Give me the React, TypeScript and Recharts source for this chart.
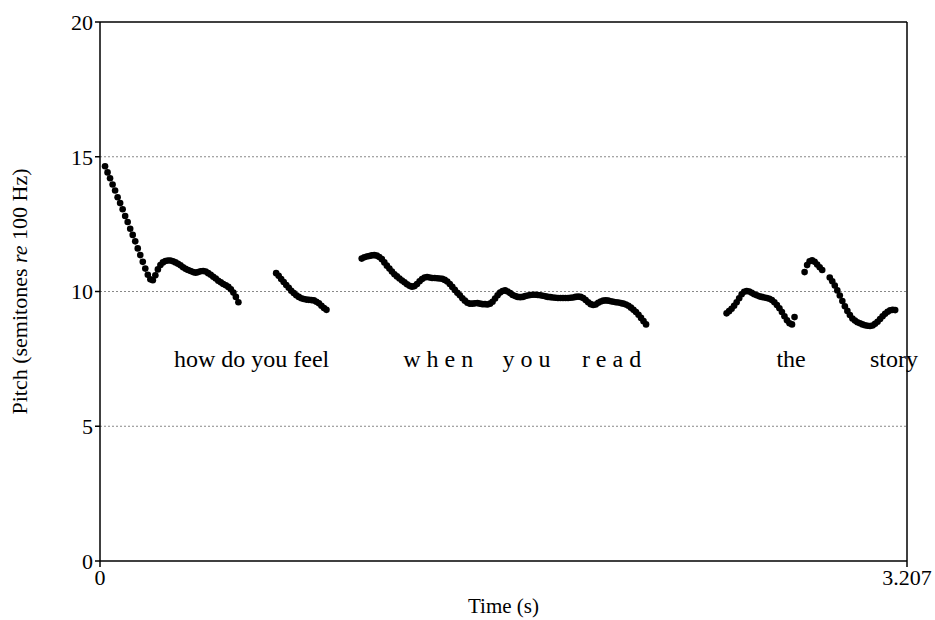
import React from "react";
import {
  ScatterChart,
  Scatter,
  XAxis,
  YAxis,
  ReferenceLine,
  Label,
} from "recharts";

// pitch track sampled every 10 ms, one array per voiced stretch
const STEP = 0.01;

const seg1Start = 0.02;
const seg1Pitch = [
  14.65, 14.42, 14.2, 13.97, 13.75, 13.5, 13.28, 13.05, 12.8, 12.58, 12.33,
  12.1, 11.86, 11.6, 11.35, 11.1, 10.85, 10.62, 10.45, 10.42, 10.6, 10.82,
  10.98, 11.08, 11.13, 11.15, 11.15, 11.12, 11.08, 11.03, 10.97, 10.9, 10.84,
  10.8, 10.76, 10.72, 10.7, 10.72, 10.75, 10.76, 10.74, 10.68, 10.62, 10.55,
  10.48, 10.4, 10.34, 10.28, 10.23, 10.17, 10.08, 9.96, 9.8, 9.6,
];

const seg2Start = 0.7;
const seg2Pitch = [
  10.68, 10.58, 10.46, 10.35, 10.24, 10.14, 10.03, 9.94, 9.86, 9.8, 9.75,
  9.72, 9.7, 9.69, 9.68, 9.67, 9.62, 9.56, 9.47, 9.39, 9.32,
];

const seg3Start = 1.04;
const seg3Pitch = [
  11.22, 11.27, 11.3, 11.32, 11.34, 11.35, 11.33, 11.28, 11.2, 11.08, 10.96,
  10.85, 10.74, 10.64, 10.56, 10.48, 10.41, 10.34, 10.27, 10.21, 10.18, 10.2,
  10.28, 10.38, 10.46, 10.52, 10.54, 10.52, 10.5, 10.5, 10.49, 10.48, 10.47,
  10.43, 10.37, 10.28, 10.17, 10.06, 9.95, 9.86, 9.75, 9.66, 9.58, 9.55, 9.55,
  9.56, 9.57, 9.55, 9.53, 9.53, 9.52, 9.55, 9.62, 9.74, 9.86, 9.96, 10.02,
  10.04, 10.0, 9.94, 9.87, 9.83, 9.8, 9.79, 9.8, 9.83, 9.85, 9.87, 9.88, 9.88,
  9.87, 9.86, 9.84, 9.82, 9.8, 9.79, 9.78, 9.77, 9.76, 9.76, 9.76, 9.76, 9.76,
  9.77, 9.78, 9.8, 9.81, 9.8, 9.76, 9.68, 9.6, 9.53, 9.5, 9.52, 9.58, 9.63,
  9.66, 9.67, 9.66, 9.64, 9.62, 9.6, 9.59, 9.57, 9.55, 9.52, 9.47, 9.4, 9.32,
  9.24, 9.14, 9.02, 8.9, 8.78,
];

const seg4Start = 2.49;
const seg4Pitch = [
  9.19, 9.27, 9.36, 9.47, 9.6, 9.75, 9.9, 9.99, 10.02, 10.0, 9.95, 9.9, 9.86,
  9.82, 9.8, 9.78, 9.76, 9.73, 9.68, 9.6, 9.5, 9.38, 9.24, 9.08, 8.93, 8.82,
  8.78, 9.05,
];

const seg5Start = 2.8;
const seg5Pitch = [10.72, 10.98, 11.12, 11.16, 11.1, 11.0, 10.9, 10.8];

const seg6Start = 2.9;
const seg6Pitch = [
  10.52, 10.38, 10.22, 10.04, 9.85, 9.65, 9.45, 9.28, 9.13, 9.0, 8.92, 8.86,
  8.82, 8.78, 8.75, 8.73, 8.72, 8.74, 8.8, 8.88, 8.98, 9.08, 9.17, 9.25, 9.3,
  9.32, 9.31,
];

// words of the utterance and where they start (s)
const words = ["how do you feel", "w h e n", "y o u", "r e a d", "the", "story"];
const wordStarts = [0.294, 1.205, 1.6, 1.915, 2.688, 3.06];
const wordPitch = 7.5;

const xTicks = [0, 3.207];
const yTicks = [0, 5, 10, 15, 20];
const gridLevels = [5, 10, 15];

const toPoints = (start: number, values: number[]) =>
  values.map((v, i) => ({ t: +(start + i * STEP).toFixed(3), pitch: v }));

const segments = [
  toPoints(seg1Start, seg1Pitch),
  toPoints(seg2Start, seg2Pitch),
  toPoints(seg3Start, seg3Pitch),
  toPoints(seg4Start, seg4Pitch),
  toPoints(seg5Start, seg5Pitch),
  toPoints(seg6Start, seg6Pitch),
];

const wordData = words.map((w, i) => ({ t: wordStarts[i], pitch: wordPitch, word: w }));

const FONT = "'Liberation Serif', 'Times New Roman', serif";

const Dot = (props: any) => <circle cx={props.cx} cy={props.cy} r={3.3} fill="#000" />;

const Word = (props: any) => (
  <text
    x={props.cx}
    y={props.cy}
    dy={8}
    fontFamily={FONT}
    fontSize={24}
    fill="#000"
    textAnchor="start"
  >
    {props.payload.word}
  </text>
);

const tickStyle = { fontFamily: FONT, fontSize: 22, fill: "#000" };

export default function App() {
  return (
    <div style={{ position: "absolute", left: 0, top: 0, background: "#fff" }}>
      <ScatterChart
        width={935}
        height={620}
        margin={{ top: 22, right: 28, bottom: 19, left: 40 }}
      >
        <XAxis
          type="number"
          dataKey="t"
          domain={[0, 3.207]}
          ticks={xTicks}
          interval={0}
          tick={tickStyle}
          tickSize={6}
          tickLine={{ stroke: "#000", strokeWidth: 1.5 }}
          axisLine={{ stroke: "#000", strokeWidth: 1.5 }}
          height={40}
        >
          <Label
            content={({ viewBox }: any) => (
              <text
                x={viewBox.x + viewBox.width / 2}
                y={613}
                textAnchor="middle"
                fontFamily={FONT}
                fontSize={21}
                fill="#000"
              >
                Time (s)
              </text>
            )}
          />
        </XAxis>
        <YAxis
          type="number"
          dataKey="pitch"
          domain={[0, 20]}
          ticks={yTicks}
          interval={0}
          tick={tickStyle}
          tickSize={5}
          tickLine={{ stroke: "#000", strokeWidth: 1.5 }}
          axisLine={{ stroke: "#000", strokeWidth: 1.5 }}
          width={60}
        >
          <Label
            content={({ viewBox }: any) => {
              const cy = viewBox.y + viewBox.height / 2;
              return (
                <text
                  x={27}
                  y={cy}
                  transform={`rotate(-90, 27, ${cy})`}
                  textAnchor="middle"
                  fontFamily={FONT}
                  fontSize={22}
                  fill="#000"
                >
                  Pitch (semitones <tspan fontStyle="italic">re</tspan> 100 Hz)
                </text>
              );
            }}
          />
        </YAxis>
        {gridLevels.map((g) => (
          <ReferenceLine
            key={g}
            y={g}
            stroke="#888"
            strokeDasharray="2 2"
            strokeWidth={1}
          />
        ))}
        <ReferenceLine y={20} stroke="#000" strokeWidth={1.5} />
        <ReferenceLine x={3.207} stroke="#000" strokeWidth={1.5} />
        {segments.map((seg, i) => (
          <Scatter
            key={i}
            data={seg}
            shape={Dot}
            isAnimationActive={false}
          />
        ))}
        <Scatter data={wordData} shape={Word} isAnimationActive={false} />
      </ScatterChart>
    </div>
  );
}
